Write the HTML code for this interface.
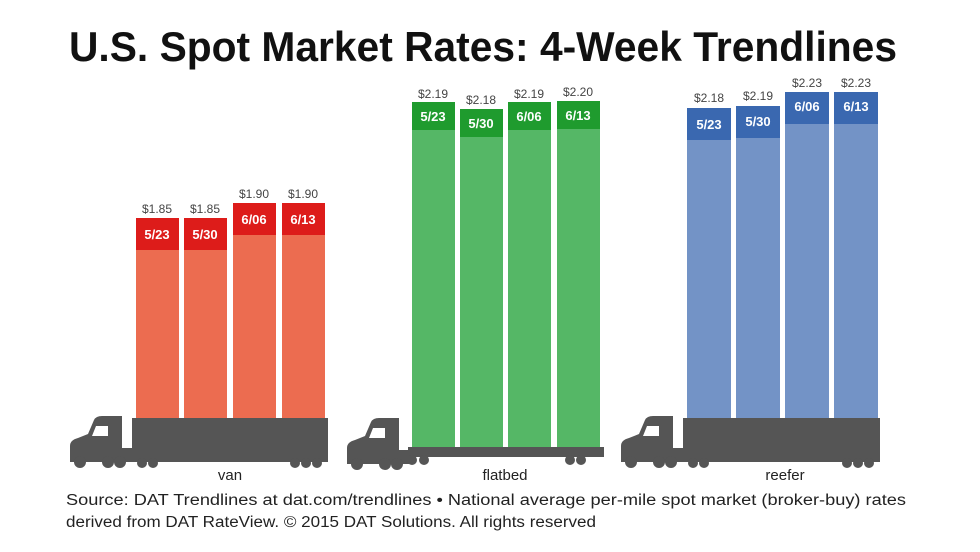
<!DOCTYPE html>
<html><head><style>
body{margin:0;background:#fff;}
svg{display:block;}
</style></head><body>
<svg width="980" height="552" viewBox="0 0 980 552" xmlns="http://www.w3.org/2000/svg" font-family="Liberation Sans, sans-serif">
<rect width="980" height="552" fill="#fff"/>
<text x="483" y="61" text-anchor="middle" font-size="42" font-weight="bold" fill="#111" textLength="828" lengthAdjust="spacingAndGlyphs">U.S. Spot Market Rates: 4-Week Trendlines</text>

<defs>
<g id="cab">
  <path d="M0,52 L0,36 Q0,30 8,28 L18,24 L24,10 Q26,6 32,6 L52,6 L52,38 L62,38 L62,52 Z" fill="#555"/>
  <path d="M26,16 L38,16 L38,26 L22,26 Z" fill="#fff"/>
  <circle cx="10" cy="52" r="6" fill="#555"/><circle cx="38" cy="52" r="6" fill="#555"/><circle cx="50" cy="52" r="6" fill="#555"/>
</g>
</defs>

<!-- VAN -->
<g>
<rect x="136" y="218" width="43" height="202" fill="#ec6c50"/>
<rect x="184" y="218" width="43" height="202" fill="#ec6c50"/>
<rect x="233" y="203" width="43" height="217" fill="#ec6c50"/>
<rect x="282" y="203" width="43" height="217" fill="#ec6c50"/>
<rect x="136" y="218" width="43" height="32" fill="#dd1c1a"/>
<rect x="184" y="218" width="43" height="32" fill="#dd1c1a"/>
<rect x="233" y="203" width="43" height="32" fill="#dd1c1a"/>
<rect x="282" y="203" width="43" height="32" fill="#dd1c1a"/>
<g font-size="13" font-weight="bold" fill="#fff" text-anchor="middle">
<text x="157" y="239">5/23</text><text x="205" y="239">5/30</text><text x="254" y="224">6/06</text><text x="303" y="224">6/13</text></g>
<g font-size="12" fill="#444" text-anchor="middle">
<text x="157" y="213">$1.85</text><text x="205" y="213">$1.85</text><text x="254" y="198">$1.90</text><text x="303" y="198">$1.90</text></g>
<rect x="132" y="418" width="196" height="44" fill="#555"/>
<circle cx="142" cy="463" r="5" fill="#555"/><circle cx="153" cy="463" r="5" fill="#555"/>
<circle cx="295" cy="463" r="5" fill="#555"/><circle cx="306" cy="463" r="5" fill="#555"/><circle cx="317" cy="463" r="5" fill="#555"/>
<use href="#cab" x="70" y="410"/>
<text x="230" y="480" text-anchor="middle" font-size="15" fill="#222">van</text>
</g>

<!-- FLATBED -->
<g>
<rect x="412" y="102" width="43" height="346" fill="#55b766"/>
<rect x="460" y="109" width="43" height="339" fill="#55b766"/>
<rect x="508" y="102" width="43" height="346" fill="#55b766"/>
<rect x="557" y="101" width="43" height="347" fill="#55b766"/>
<rect x="412" y="102" width="43" height="28" fill="#1f9b2e"/>
<rect x="460" y="109" width="43" height="28" fill="#1f9b2e"/>
<rect x="508" y="102" width="43" height="28" fill="#1f9b2e"/>
<rect x="557" y="101" width="43" height="28" fill="#1f9b2e"/>
<g font-size="13" font-weight="bold" fill="#fff" text-anchor="middle">
<text x="433" y="121">5/23</text><text x="481" y="128">5/30</text><text x="529" y="121">6/06</text><text x="578" y="120">6/13</text></g>
<g font-size="12" fill="#444" text-anchor="middle">
<text x="433" y="98">$2.19</text><text x="481" y="104">$2.18</text><text x="529" y="98">$2.19</text><text x="578" y="96">$2.20</text></g>
<rect x="408" y="447" width="196" height="10" fill="#555"/>
<circle cx="412" cy="460" r="5" fill="#555"/><circle cx="424" cy="460" r="5" fill="#555"/>
<circle cx="570" cy="460" r="5" fill="#555"/><circle cx="581" cy="460" r="5" fill="#555"/>
<use href="#cab" x="347" y="412"/>
<text x="505" y="480" text-anchor="middle" font-size="15" fill="#222">flatbed</text>
</g>

<!-- REEFER -->
<g>
<rect x="687" y="108" width="44" height="312" fill="#7393c6"/>
<rect x="736" y="106" width="44" height="314" fill="#7393c6"/>
<rect x="785" y="92" width="44" height="328" fill="#7393c6"/>
<rect x="834" y="92" width="44" height="328" fill="#7393c6"/>
<rect x="687" y="108" width="44" height="32" fill="#3a68b0"/>
<rect x="736" y="106" width="44" height="32" fill="#3a68b0"/>
<rect x="785" y="92" width="44" height="32" fill="#3a68b0"/>
<rect x="834" y="92" width="44" height="32" fill="#3a68b0"/>
<g font-size="13" font-weight="bold" fill="#fff" text-anchor="middle">
<text x="709" y="129">5/23</text><text x="758" y="126">5/30</text><text x="807" y="111">6/06</text><text x="856" y="111">6/13</text></g>
<g font-size="12" fill="#444" text-anchor="middle">
<text x="709" y="102">$2.18</text><text x="758" y="100">$2.19</text><text x="807" y="87">$2.23</text><text x="856" y="87">$2.23</text></g>
<rect x="683" y="418" width="197" height="44" fill="#555"/>
<circle cx="693" cy="463" r="5" fill="#555"/><circle cx="704" cy="463" r="5" fill="#555"/>
<circle cx="847" cy="463" r="5" fill="#555"/><circle cx="858" cy="463" r="5" fill="#555"/><circle cx="869" cy="463" r="5" fill="#555"/>
<use href="#cab" x="621" y="410"/>
<text x="785" y="480" text-anchor="middle" font-size="15" fill="#222">reefer</text>
</g>

<text x="66" y="505" font-size="15.5" fill="#222" textLength="840" lengthAdjust="spacingAndGlyphs">Source: DAT Trendlines at dat.com/trendlines • National average per-mile spot market (broker-buy) rates</text>
<text x="66" y="527" font-size="15.5" fill="#222" textLength="530" lengthAdjust="spacingAndGlyphs">derived from DAT RateView. © 2015 DAT Solutions. All rights reserved</text>
</svg>
</body></html>
